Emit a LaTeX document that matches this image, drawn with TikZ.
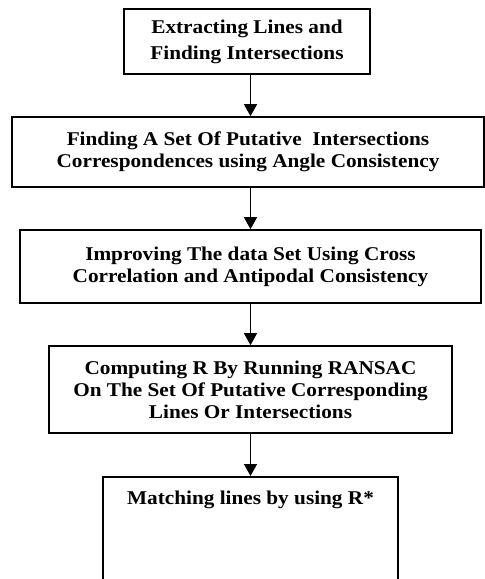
\documentclass[tikz,border=0pt]{standalone}
\usepackage{fontspec}
\setmainfont{Liberation Serif}[FakeStretch=1.09]
\usetikzlibrary{arrows.meta,positioning,calc}

\begin{document}
\begin{tikzpicture}[x=1pt,y=-1pt,
  stepbox/.style={draw,line width=1.6pt,inner sep=0pt,align=center,
                  font=\bfseries\fontsize{19.5}{22}\selectfont},
  flow/.style={-{Triangle[length=12pt,width=13pt]},line width=1.4pt}]
  \useasboundingbox (0,0) rectangle (485,579);
  \clip (0,0) rectangle (485,579);
  % Lines and intersections
  \node[stepbox,minimum width=246pt,minimum height=65pt,
        font=\bfseries\fontsize{19.5}{26}\selectfont] (extract) at (247,41.5)
        {Extracting Lines and\\Finding Intersections};
  % Angle consistency
  \node[stepbox,minimum width=472pt,minimum height=70pt] (angle) at (248,152)
        {Finding A Set Of Putative~ Intersections\\Correspondences using Angle Consistency};
  % Cross correlation
  \node[stepbox,minimum width=461pt,minimum height=73pt] (cross) at (250.5,266.5)
        {Improving The data Set Using Cross\\Correlation and Antipodal Consistency};
  % RANSAC
  \node[stepbox,minimum width=403pt,minimum height=87pt] (ransac) at (250.5,389.5)
        {Computing R By Running RANSAC\\On The Set Of Putative Corresponding\\Lines Or Intersections};
  % Matching (box runs off the bottom)
  \node[stepbox,minimum width=295pt,text height=28pt,text depth=86pt,anchor=north] (match) at (250.5,476)
        {Matching lines by using R*};
  % Arrows
  \draw[flow] (extract.south -| ransac.north) -- (angle.north -| ransac.north);
  \draw[flow] (angle.south -| ransac.north) -- (cross.north);
  \draw[flow] (cross) -- (ransac);
  \draw[flow] (ransac) -- (match);
\end{tikzpicture}
\end{document}
